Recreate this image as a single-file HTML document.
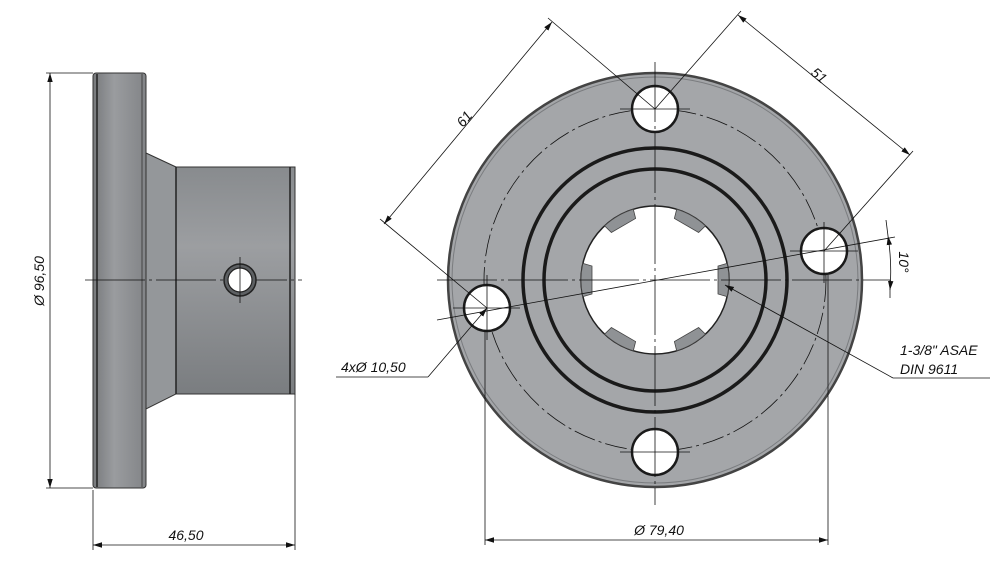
<!DOCTYPE html>
<html><head><meta charset="utf-8"><style>
html,body{margin:0;padding:0;background:#fff}
svg{display:block}
text{font-family:"Liberation Sans",sans-serif;font-style:italic;font-size:14px;fill:#111}
</style></head><body>
<svg width="1000" height="567" viewBox="0 0 1000 567" xmlns="http://www.w3.org/2000/svg">
<defs>
<linearGradient id="fl" x1="0" x2="1" y1="0" y2="0">
<stop offset="0" stop-color="#77797c"/><stop offset="0.4" stop-color="#9a9c9f"/><stop offset="1" stop-color="#828487"/></linearGradient>
<linearGradient id="cy" x1="0" x2="0" y1="0" y2="1">
<stop offset="0" stop-color="#888b8e"/><stop offset="0.35" stop-color="#9c9ea1"/><stop offset="1" stop-color="#7a7d80"/></linearGradient>
<marker id="ar" viewBox="0 0 10 10" refX="10" refY="5" markerWidth="9" markerHeight="9" orient="auto-start-reverse" markerUnits="userSpaceOnUse"><path d="M0,2 L10,5 L0,8z" fill="#111"/></marker>
<path id="tooth" d="M727.1,263.4 L718,266 L718,294 L727.1,296.6 A74,74 0 0 0 727.1,263.4z"/>
</defs>

<!-- LEFT VIEW -->
<rect x="93" y="73" width="53" height="415" rx="3" fill="url(#fl)" stroke="#333" stroke-width="1"/>
<line x1="97" y1="74" x2="97" y2="487" stroke="#222" stroke-width="1.5"/>
<line x1="142" y1="74" x2="142" y2="487" stroke="#444" stroke-width="1"/>
<polygon points="146,153 176,167 176,394 146,409" fill="#94979a" stroke="#333"/>
<rect x="176" y="167" width="119" height="227" fill="url(#cy)" stroke="#333"/>
<line x1="176" y1="167" x2="176" y2="394" stroke="#222" stroke-width="1.5"/>
<line x1="290" y1="167" x2="290" y2="394" stroke="#222" stroke-width="1.5"/>
<line x1="85" y1="280" x2="302" y2="280" stroke="#111" stroke-width="0.8" stroke-dasharray="60,4,3,4"/>
<circle cx="240" cy="280" r="16" fill="#5d6063" stroke="#222" stroke-width="1.5"/>
<circle cx="240" cy="280" r="12" fill="#fff" stroke="#222" stroke-width="1.2"/>
<line x1="240" y1="257" x2="240" y2="303" stroke="#111" stroke-width="0.8"/>
<g stroke="#111" stroke-width="0.8" fill="none">
<line x1="46" y1="73" x2="93" y2="73"/><line x1="46" y1="488" x2="93" y2="488"/>
<line x1="50" y1="73" x2="50" y2="488" marker-start="url(#ar)" marker-end="url(#ar)"/>
<line x1="93" y1="490" x2="93" y2="550"/><line x1="295" y1="394" x2="295" y2="550"/>
<line x1="93" y1="545" x2="295" y2="545" marker-start="url(#ar)" marker-end="url(#ar)"/>
</g>
<text x="44" y="281" text-anchor="middle" transform="rotate(-90 44 281)">Ø 96,50</text>
<text x="186" y="540" text-anchor="middle">46,50</text>

<!-- RIGHT VIEW -->
<circle cx="655" cy="280" r="207" fill="#a4a6a9" stroke="#444" stroke-width="2.5"/>
<circle cx="655" cy="280" r="203" fill="none" stroke="#7a7c7f" stroke-width="1"/>
<circle cx="655" cy="280" r="171" fill="none" stroke="#111" stroke-width="0.8" stroke-dasharray="22,4,3,4"/>
<circle cx="655" cy="280" r="132" fill="none" stroke="#1a1a1a" stroke-width="3.5"/>
<circle cx="655" cy="280" r="111" fill="none" stroke="#1a1a1a" stroke-width="3.5"/>
<circle cx="655" cy="280" r="74" fill="#fff" stroke="#222" stroke-width="1.5"/>
<g fill="#8f9295" stroke="#444" stroke-width="0.8">
<use href="#tooth"/>
<use href="#tooth" transform="rotate(180 655 280)"/>
<use href="#tooth" transform="rotate(-60 655 280)"/>
<use href="#tooth" transform="rotate(-120 655 280)"/>
<use href="#tooth" transform="rotate(60 655 280)"/>
<use href="#tooth" transform="rotate(120 655 280)"/>
</g>
<g fill="#fff" stroke="#1a1a1a" stroke-width="2.5">
<circle cx="655" cy="109" r="23"/><circle cx="655" cy="452" r="23"/>
<circle cx="824" cy="251" r="23"/><circle cx="487" cy="308" r="23"/>
</g>
<g stroke="#111" stroke-width="0.8" fill="none">
<line x1="655" y1="62" x2="655" y2="505" stroke-dasharray="60,4,3,4"/>
<line x1="437" y1="280" x2="890" y2="280" stroke-dasharray="60,4,3,4"/>
<line x1="437" y1="320" x2="895" y2="237"/>
<line x1="620" y1="109" x2="690" y2="109"/><line x1="620" y1="452" x2="690" y2="452"/>
<line x1="790" y1="251" x2="858" y2="251"/><line x1="453" y1="308" x2="520" y2="308"/>
<line x1="824" y1="222" x2="824" y2="283"/><line x1="487" y1="275" x2="487" y2="340"/>
<line x1="487" y1="308" x2="380" y2="219"/><line x1="655" y1="109" x2="548" y2="18"/>
<line x1="384" y1="224" x2="552" y2="22" marker-start="url(#ar)" marker-end="url(#ar)"/>
<line x1="655" y1="109" x2="741" y2="11"/><line x1="824" y1="251" x2="913" y2="151"/>
<line x1="738" y1="15" x2="910" y2="155" marker-start="url(#ar)" marker-end="url(#ar)"/>
<path d="M888,236 A235,235 0 0 1 890,290" marker-start="url(#ar)" marker-end="url(#ar)"/>
<line x1="886" y1="220" x2="888" y2="236"/><line x1="890" y1="280" x2="890" y2="298"/>
<line x1="487" y1="308" x2="428" y2="377" marker-start="url(#ar)"/>
<line x1="428" y1="377" x2="336" y2="377"/>
<line x1="725" y1="285" x2="893" y2="378" marker-start="url(#ar)"/>
<line x1="893" y1="378" x2="990" y2="378"/>
<line x1="485" y1="330" x2="485" y2="545"/><line x1="828" y1="275" x2="828" y2="545"/>
<line x1="485" y1="540" x2="828" y2="540" marker-start="url(#ar)" marker-end="url(#ar)"/>
</g>
<text x="468" y="122" text-anchor="middle" transform="rotate(-50 468 122)">61</text>
<text x="816" y="79" text-anchor="middle" transform="rotate(40 816 79)">51</text>
<text x="899" y="262" text-anchor="middle" transform="rotate(90 899 262)">10°</text>
<text x="341" y="372">4xØ 10,50</text>
<text x="900" y="355">1-3/8" ASAE</text>
<text x="900" y="374">DIN 9611</text>
<text x="659" y="535" text-anchor="middle">Ø 79,40</text>
</svg>
</body></html>
